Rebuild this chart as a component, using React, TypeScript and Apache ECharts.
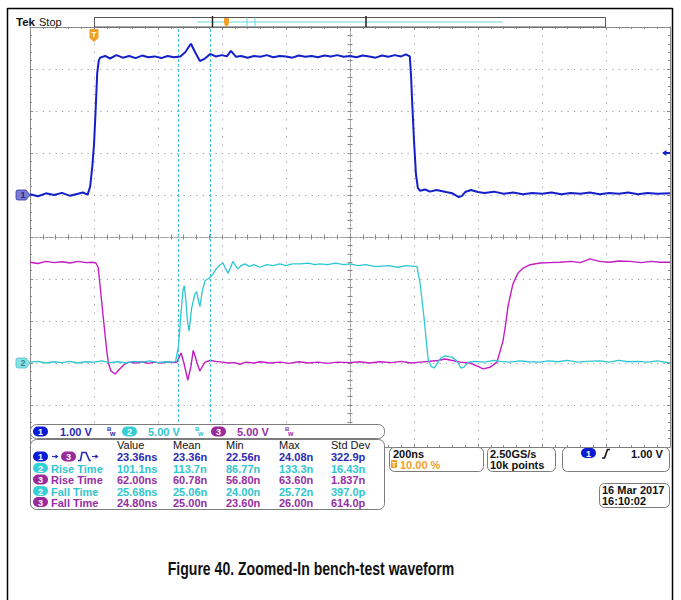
import React, { useEffect, useRef } from "react";
import * as echarts from "echarts";

// ---- acquisition settings ----
const timeMin = -1000; // ns (relative to screen centre), 200 ns/div
const timeMax = 1000;
const timePerDiv = 200;
const divHalf = 5; // vertical divisions each side of centre

const ch1Scale = 1; // V/div
const ch1Offset = 1; // div
const ch2Scale = 5;
const ch2Offset = -3;
const ch3Scale = 5;
const ch3Offset = -3;

const triggerTime = -800; // ns
const triggerLevel = 1.0; // V on ch1
const cursorTimes = [-537.5, -437.5];

// ---- traces: [time ns, volts] ----
const ch1Trace = [
  [-1000, 0.02], [-975, -0.03], [-950, 0.04], [-925, 0.0], [-900, 0.05], [-875, -0.02], [-850, 0.03], [-835, 0.06], [-820, 0.01],
  [-812, 0.2], [-805, 0.7], [-800, 1.2], [-795, 2.0], [-790, 2.9], [-785, 3.2], [-781, 3.27],
  [-765, 3.31], [-750, 3.25], [-730, 3.33], [-710, 3.27], [-690, 3.31], [-670, 3.26], [-650, 3.32], [-630, 3.28], [-610, 3.3],
  [-590, 3.26], [-570, 3.31], [-550, 3.28], [-530, 3.3], [-515, 3.4], [-497, 3.6], [-484, 3.4], [-469, 3.19], [-455, 3.24],
  [-437, 3.36], [-420, 3.3], [-400, 3.33], [-385, 3.3], [-372, 3.43], [-356, 3.29], [-340, 3.31], [-320, 3.27], [-300, 3.31],
  [-280, 3.29], [-260, 3.33], [-240, 3.28], [-220, 3.31], [-200, 3.3], [-180, 3.27], [-160, 3.32], [-140, 3.29], [-120, 3.31],
  [-100, 3.28], [-80, 3.32], [-60, 3.3], [-40, 3.33], [-20, 3.29], [0, 3.31], [20, 3.28], [40, 3.32], [60, 3.3], [80, 3.27],
  [100, 3.32], [120, 3.29], [140, 3.33], [160, 3.3], [175, 3.35], [187, 3.3], [191, 2.8], [194, 2.26], [200, 1.3], [206, 0.5],
  [212, 0.17], [219, 0.1], [235, 0.13], [250, 0.08], [270, 0.12], [300, 0.07], [320, 0.04], [340, -0.05], [350, -0.02],
  [360, 0.07], [378, 0.12], [400, 0.07], [420, 0.05], [450, 0.08], [480, 0.03], [510, 0.06], [540, 0.02], [570, 0.05],
  [600, 0.03], [630, 0.06], [660, 0.02], [690, 0.05], [720, 0.03], [750, 0.06], [780, 0.02], [810, 0.05], [840, 0.03],
  [870, 0.06], [900, 0.02], [930, 0.05], [960, 0.03], [1000, 0.04],
];

const ch2Trace = [
  [-1000, 0.1], [-975, 0.2], [-950, 0.0], [-925, 0.15], [-900, 0.05], [-875, 0.2], [-850, 0.0], [-825, 0.15], [-800, 0.1],
  [-775, 0.25], [-750, 0.05], [-725, 0.15], [-700, 0.0], [-675, 0.2], [-650, 0.1], [-625, 0.25], [-600, 0.05], [-575, 0.15],
  [-555, 0.1], [-545, 0.2], [-536, 2.0], [-528, 6.0], [-522, 8.6], [-518, 9.2], [-513, 7.5], [-508, 5.0], [-503, 3.8],
  [-495, 6.5], [-485, 8.2], [-479, 8.5], [-474, 7.5], [-469, 6.7], [-462, 8.5], [-453, 9.8], [-445, 10.0], [-437, 10.2],
  [-428, 10.6], [-418, 11.2], [-406, 11.7], [-397, 11.9], [-390, 11.3], [-381, 10.7], [-373, 11.4], [-366, 12.1], [-358, 11.6],
  [-350, 11.2], [-340, 11.6], [-328, 11.8], [-315, 11.5], [-300, 11.7], [-281, 11.4], [-260, 11.7], [-240, 11.6], [-219, 11.8],
  [-200, 11.6], [-180, 11.8], [-156, 11.8], [-130, 11.9], [-110, 11.7], [-94, 11.8], [-70, 11.7], [-45, 11.9], [-20, 11.7],
  [0, 11.8], [25, 11.6], [50, 11.7], [75, 11.5], [94, 11.5], [120, 11.6], [150, 11.4], [175, 11.6], [200, 11.5], [209, 11.5],
  [219, 9.5], [231, 5.5], [244, 0.5], [253, -0.4], [263, -0.6], [275, 0.1], [284, 0.6], [297, 0.85], [310, 0.75], [319, 0.7],
  [334, 0.24], [347, -0.6], [356, -0.5], [369, 0.1], [390, 0.2], [420, 0.1], [450, 0.3], [469, 0.2], [500, 0.1], [530, 0.25],
  [560, 0.15], [594, 0.1], [620, 0.25], [650, 0.15], [680, 0.3], [710, 0.1], [740, 0.2], [781, 0.25], [810, 0.1], [840, 0.3],
  [870, 0.15], [900, 0.2], [930, 0.1], [960, 0.25], [1000, 0.0],
];

const ch3Trace = [
  [-1000, 12.0], [-975, 11.85], [-950, 12.1], [-925, 11.95], [-900, 12.05], [-875, 11.9], [-850, 12.1], [-825, 11.95],
  [-805, 12.0], [-794, 11.9], [-787, 11.4], [-781, 9.2], [-771, 5.4], [-760, 1.4], [-755, 0.0], [-747, -0.95], [-734, -1.3],
  [-722, -0.8], [-703, -0.1], [-690, 0.1], [-670, 0.0], [-650, 0.15], [-630, -0.05], [-610, 0.1], [-590, 0.0], [-570, 0.15],
  [-550, 0.05], [-541, 0.1], [-528, 1.2], [-519, 0.0], [-507, -2.05], [-497, -0.4], [-490, 1.5], [-484, 0.8], [-478, 0.0],
  [-469, -0.95], [-460, -0.3], [-453, 0.1], [-437, 0.3], [-420, 0.2], [-400, 0.1], [-380, 0.0], [-360, 0.05], [-344, -0.15],
  [-325, 0.1], [-300, 0.0], [-280, 0.15], [-250, 0.0], [-219, 0.1], [-190, -0.05], [-160, 0.15], [-130, 0.0], [-100, 0.1],
  [-70, -0.05], [-40, 0.1], [0, 0.05], [30, 0.15], [60, 0.0], [94, 0.15], [130, 0.05], [160, 0.2], [190, 0.0], [220, 0.1],
  [250, 0.2], [275, 0.3], [297, 0.48], [320, 0.3], [345, 0.1], [375, 0.0], [400, -0.4], [416, -0.7], [438, -0.5], [452, -0.1],
  [459, 0.1], [466, 1.0], [478, 2.6], [486, 4.5], [494, 6.8], [509, 9.4], [525, 10.7], [541, 11.3], [563, 11.7], [594, 11.9],
  [625, 11.95], [656, 12.0], [690, 12.1], [720, 11.95], [750, 12.4], [780, 12.1], [810, 12.0], [840, 12.15], [875, 12.1],
  [910, 11.95], [940, 12.1], [970, 12.0], [1000, 12.0],
];

// ---- readouts ----
const channelLabels = ["1", "2", "3"];
const channelVolts = ["1.00 V", "5.00 V", "5.00 V"];
const measHeaders = ["Value", "Mean", "Min", "Max", "Std Dev"];
const measChannels = ["1", "2", "3", "2", "3"];
const measNames = ["", "Rise Time", "Rise Time", "Fall Time", "Fall Time"];
const measRows = [
  ["23.36ns", "23.36n", "22.56n", "24.08n", "322.9p"],
  ["101.1ns", "113.7n", "86.77n", "133.3n", "16.43n"],
  ["62.00ns", "60.78n", "56.80n", "63.60n", "1.837n"],
  ["25.68ns", "25.06n", "24.00n", "25.72n", "397.0p"],
  ["24.80ns", "25.00n", "23.60n", "26.00n", "614.0p"],
];
const timebaseText = ["200ns", "10.00 %"];
const sampleText = ["2.50GS/s", "10k points"];
const triggerText = "1.00 V";
const dateText = ["16 Mar 2017", "16:10:02"];
const captionText = "Figure 40. Zoomed-In bench-test waveform";

// ---- colours ----
const C1 = "#1420c8";
const C2 = "#2cc8d2";
const C3 = "#c41cc4";
const P: Record<string, string> = { "1": "#0c1ad6", "2": "#36cfd6", "3": "#9a2a9c" };
const T: Record<string, string> = { "1": "#2a2ab4", "2": "#30c6d0", "3": "#952ea6" };
const ORANGE = "#f0a028";
const FONT = '"Liberation Sans", Arial, sans-serif';

const toDiv = (trace: number[][], offset: number, scale: number) =>
  trace.map(([t, v]) => [t, offset + v / scale]);

function txt(x: number, y: number, text: string, fill: string, size = 11, weight = "bold", align = "left", extra: any = {}) {
  return {
    type: "text",
    z: 100,
    x,
    y,
    ...extra,
    style: {
      text,
      x: 0,
      y: 0,
      fill,
      font: `${weight} ${size}px ${FONT}`,
      textAlign: align,
      textVerticalAlign: "middle",
      verticalAlign: "middle",
      align,
    },
  };
}
function box(x: number, y: number, w: number, h: number, r = 5, stroke = "#7c7c7c", fill = "#ffffff") {
  return { type: "rect", z: 90, shape: { x, y, width: w, height: h, r }, style: { fill, stroke, lineWidth: 1 } };
}
function pill(x: number, yc: number, label: string) {
  return [
    { type: "rect", z: 95, shape: { x, y: yc - 5, width: 15, height: 10, r: 5 }, style: { fill: P[label] } },
    txt(x + 7.5, yc + 0.5, label, "#ffffff", 9, "bold", "center"),
  ];
}
function line(x1: number, y1: number, x2: number, y2: number, stroke: string, lineWidth = 1) {
  return { type: "line", z: 95, shape: { x1, y1, x2, y2 }, style: { stroke, lineWidth } };
}
function arrow(x: number, y: number, color: string) {
  return [
    line(x, y, x + 4, y, color, 1.2),
    { type: "polygon", z: 96, shape: { points: [[x + 3.5, y - 2.2], [x + 6.5, y], [x + 3.5, y + 2.2]] }, style: { fill: color } },
  ];
}
function bw(x: number, color: string) {
  return [txt(x, 428.5, "B", color, 6, "bold"), txt(x + 3, 433, "w", color, 7, "bold")];
}

function buildGraphic() {
  const g: any[] = [];
  // outer frame
  g.push(line(7.5, 8.5, 672.5, 8.5, "#000", 1.5));
  g.push(line(7.5, 8, 7.5, 600, "#000", 1.5));
  g.push(line(672.5, 8, 672.5, 600, "#000", 1.5));
  // header
  g.push(txt(16, 22, "Tek", "#111", 11.5, "bold"));
  g.push(txt(39, 21.5, "Stop", "#111", 11, "normal"));
  g.push({ type: "rect", z: 90, shape: { x: 94.5, y: 17.5, width: 511, height: 9.5 }, style: { fill: "#fff", stroke: "#555", lineWidth: 1 } });
  g.push(line(197, 22, 503, 22, "#6cd6e0", 1));
  g.push(line(212.5, 16, 212.5, 27, "#222", 1.5));
  g.push(line(366, 16, 366, 27, "#222", 1.5));
  g.push(line(247, 17.5, 247, 27, "#6cd6e0", 1));
  g.push(line(255, 17.5, 255, 27, "#6cd6e0", 1));
  g.push({ type: "rect", z: 96, shape: { x: 224, y: 18, width: 5, height: 6, r: 1 }, style: { fill: ORANGE } });
  g.push({ type: "polygon", z: 96, shape: { points: [[224, 24], [229, 24], [226.5, 27]] }, style: { fill: ORANGE } });

  // channel bar
  g.push(box(30.5, 424.5, 354, 14, 6));
  const chX = [33, 122, 211];
  const voltX = [60, 148, 237];
  const bwX = [107, 195, 285];
  channelLabels.forEach((c, i) => {
    g.push(...pill(chX[i], 431.5, c));
    g.push(txt(voltX[i], 432, channelVolts[i], T[c], 11, "bold"));
    g.push(...bw(bwX[i], T[c]));
  });

  // measurement box
  g.push(box(30.5, 439.5, 354, 70, 6));
  const colX = [117, 173, 226, 279, 331];
  measHeaders.forEach((h, i) => g.push(txt(colX[i], 444.5, h, "#111", 11, "normal")));
  const rowY = [456.5, 468, 479.5, 491, 502];
  measRows.forEach((row, r) => {
    const ch = measChannels[r];
    const y = rowY[r];
    g.push(...pill(33, y, ch));
    if (r === 0) {
      g.push(...arrow(52, y, T["1"]));
      g.push(...pill(61, y, "3"));
      g.push({
        type: "polyline", z: 96,
        shape: { points: [[78, y + 4], [80.5, y + 4], [82, y - 4], [86, y - 4], [89.5, y + 4], [91, y + 4]] },
        style: { stroke: T["1"], lineWidth: 1.6, fill: null },
      });
      g.push(...arrow(92, y, T["1"]));
    } else {
      g.push(txt(51, y + 0.5, measNames[r], T[ch], 11, "bold"));
    }
    row.forEach((v, i) => g.push(txt(colX[i], y + 0.5, v, T[r === 0 ? "1" : ch], 11, "bold")));
  });

  // timebase box
  g.push(box(389.5, 447.5, 94, 24, 5));
  g.push(txt(393, 453.5, timebaseText[0], "#111", 11, "bold"));
  g.push({ type: "rect", z: 95, shape: { x: 391, y: 460, width: 6, height: 8, r: 1 }, style: { fill: ORANGE } });
  g.push(txt(394, 464.5, "T", "#fff", 7, "bold", "center"));
  g.push(txt(400, 464.5, timebaseText[1], ORANGE, 11, "bold"));
  // sample box
  g.push(box(487.5, 447.5, 68, 24, 5));
  g.push(txt(490, 453.5, sampleText[0], "#111", 11, "bold"));
  g.push(txt(490, 464.5, sampleText[1], "#111", 11, "bold"));
  // trigger box
  g.push(box(562.5, 447.5, 107, 24, 5));
  g.push(...pill(581, 453, "1"));
  g.push({
    type: "polyline", z: 96,
    shape: { points: [[602, 458], [604.5, 458], [607.5, 449.5], [610, 449.5]] },
    style: { stroke: "#111", lineWidth: 1.6, fill: null },
  });
  g.push(txt(631, 453.5, triggerText, "#111", 11, "bold"));
  // date box
  g.push(box(599.5, 483.5, 70, 24, 5));
  g.push(txt(602, 489.5, dateText[0], "#111", 11, "bold"));
  g.push(txt(602, 500.5, dateText[1], "#111", 11, "bold"));

  // caption
  g.push(txt(311, 568, captionText, "#111", 18.5, "bold", "center", { scaleX: 0.76 }));
  return g;
}

const GRID_COLOR = "#8a8a8a";
const DOT_COLOR = "#8c8c8c";

function centerX(inside: boolean, split: boolean) {
  return {
    type: "value", min: timeMin, max: timeMax, interval: timePerDiv, position: "bottom",
    axisLine: { show: true, onZero: true, onZeroAxisIndex: 0, lineStyle: { color: "#a0a0a0", type: [3, 2], width: 1 } },
    axisTick: { show: true, inside, length: 2.5, lineStyle: { color: GRID_COLOR } },
    minorTick: { show: true, splitNumber: 5, length: 2.5, lineStyle: { color: GRID_COLOR } },
    axisLabel: { show: false },
    splitLine: { show: split, lineStyle: { color: DOT_COLOR, type: [1, 7.4], width: 1 } },
    minorSplitLine: { show: false },
  };
}
function borderX(position: string) {
  return {
    type: "value", min: timeMin, max: timeMax, interval: timePerDiv, position,
    axisLine: { show: true, onZero: false, lineStyle: { color: GRID_COLOR, width: 1 } },
    axisTick: { show: true, inside: true, length: 3, lineStyle: { color: GRID_COLOR } },
    minorTick: { show: true, splitNumber: 5, length: 2, lineStyle: { color: GRID_COLOR } },
    axisLabel: { show: false }, splitLine: { show: false },
  };
}
function centerY(inside: boolean, split: boolean) {
  return {
    type: "value", min: -divHalf, max: divHalf, interval: 1, position: "left",
    axisLine: { show: true, onZero: true, onZeroAxisIndex: 0, lineStyle: { color: "#a0a0a0", type: [3, 2], width: 1 } },
    axisTick: { show: true, inside, length: 2.5, lineStyle: { color: GRID_COLOR } },
    minorTick: { show: true, splitNumber: 5, length: 2.5, lineStyle: { color: GRID_COLOR } },
    axisLabel: { show: false },
    splitLine: { show: split, lineStyle: { color: DOT_COLOR, type: [1, 5.4], width: 1 } },
    minorSplitLine: { show: false },
  };
}
function borderY(position: string) {
  return {
    type: "value", min: -divHalf, max: divHalf, interval: 1, position,
    axisLine: { show: true, onZero: false, lineStyle: { color: GRID_COLOR, width: 1 } },
    axisTick: { show: true, inside: true, length: 3, lineStyle: { color: GRID_COLOR } },
    minorTick: { show: true, splitNumber: 5, length: 2, lineStyle: { color: GRID_COLOR } },
    axisLabel: { show: false }, splitLine: { show: false },
  };
}

const markerPath = "path://M2,0L10,0L14,5L10,10L2,10Q0,10 0,8L0,2Q0,0 2,0Z";

export default function App() {
  const ref = useRef<HTMLDivElement>(null);
  useEffect(() => {
    if (!ref.current) return;
    const chart = echarts.init(ref.current, undefined, { renderer: "svg" });
    const option: any = {
      animation: false,
      backgroundColor: "#ffffff",
      grid: { left: 30, top: 27, width: 640, height: 420, containLabel: false },
      xAxis: [centerX(false, true), centerX(true, false), borderX("top"), borderX("bottom")],
      yAxis: [centerY(false, true), centerY(true, false), borderY("left"), borderY("right")],
      series: [
        {
          name: "CH3", type: "line", z: 3, silent: true, showSymbol: false, symbol: "none",
          data: toDiv(ch3Trace, ch3Offset, ch3Scale),
          lineStyle: { color: C3, width: 1.4 },
        },
        {
          name: "CH2", type: "line", z: 4, silent: true, showSymbol: false, symbol: "none",
          data: toDiv(ch2Trace, ch2Offset, ch2Scale),
          lineStyle: { color: C2, width: 1.3 },
          markLine: {
            silent: true, symbol: ["none", "none"], label: { show: false },
            lineStyle: { color: "#44c4dc", type: [3, 2], width: 1 },
            data: cursorTimes.map((t) => ({ xAxis: t })),
          },
          markPoint: {
            silent: true,
            data: [
              {
                coord: [timeMin, ch2Offset], symbol: markerPath, symbolSize: [14, 10], symbolOffset: [-7, 0],
                itemStyle: { color: "#86e2e4", borderColor: "#4cc0c8", borderWidth: 0.8 },
                label: { show: true, formatter: "2", color: "#3d7f86", fontSize: 9, fontWeight: "bold", fontFamily: FONT },
              },
            ],
          },
        },
        {
          name: "CH1", type: "line", z: 5, silent: true, showSymbol: false, symbol: "none",
          data: toDiv(ch1Trace, ch1Offset, ch1Scale),
          lineStyle: { color: C1, width: 2 },
          markPoint: {
            silent: true,
            data: [
              {
                coord: [timeMin, ch1Offset], symbol: markerPath, symbolSize: [14, 10], symbolOffset: [-7, 0],
                itemStyle: { color: "#7c7cd2", borderColor: "#3030a8", borderWidth: 0.8 },
                label: { show: true, formatter: "1", color: "#26268a", fontSize: 9, fontWeight: "bold", fontFamily: FONT },
              },
              {
                coord: [timeMax, ch1Offset + triggerLevel / ch1Scale], symbol: "path://M0,3L5,0L5,2L9,2L9,4L5,4L5,6Z",
                symbolSize: [8, 6], symbolOffset: [-4, 0], itemStyle: { color: C1 }, label: { show: false },
              },
              {
                coord: [triggerTime, divHalf], symbol: "path://M1,0L9,0Q10,0 10,1L10,9L5,13L0,9L0,1Q0,0 1,0Z",
                symbolSize: [9, 13], symbolOffset: [0, 8.5], itemStyle: { color: ORANGE },
                label: { show: true, formatter: "T", color: "#ffffff", fontSize: 8, fontWeight: "bold", fontFamily: FONT, offset: [0, -1.5] },
              },
            ],
          },
        },
      ],
      graphic: { elements: buildGraphic() },
    };
    chart.setOption(option);
    return () => chart.dispose();
  }, []);
  return <div ref={ref} style={{ position: "fixed", left: 0, top: 0, width: 681, height: 600 }} />;
}
